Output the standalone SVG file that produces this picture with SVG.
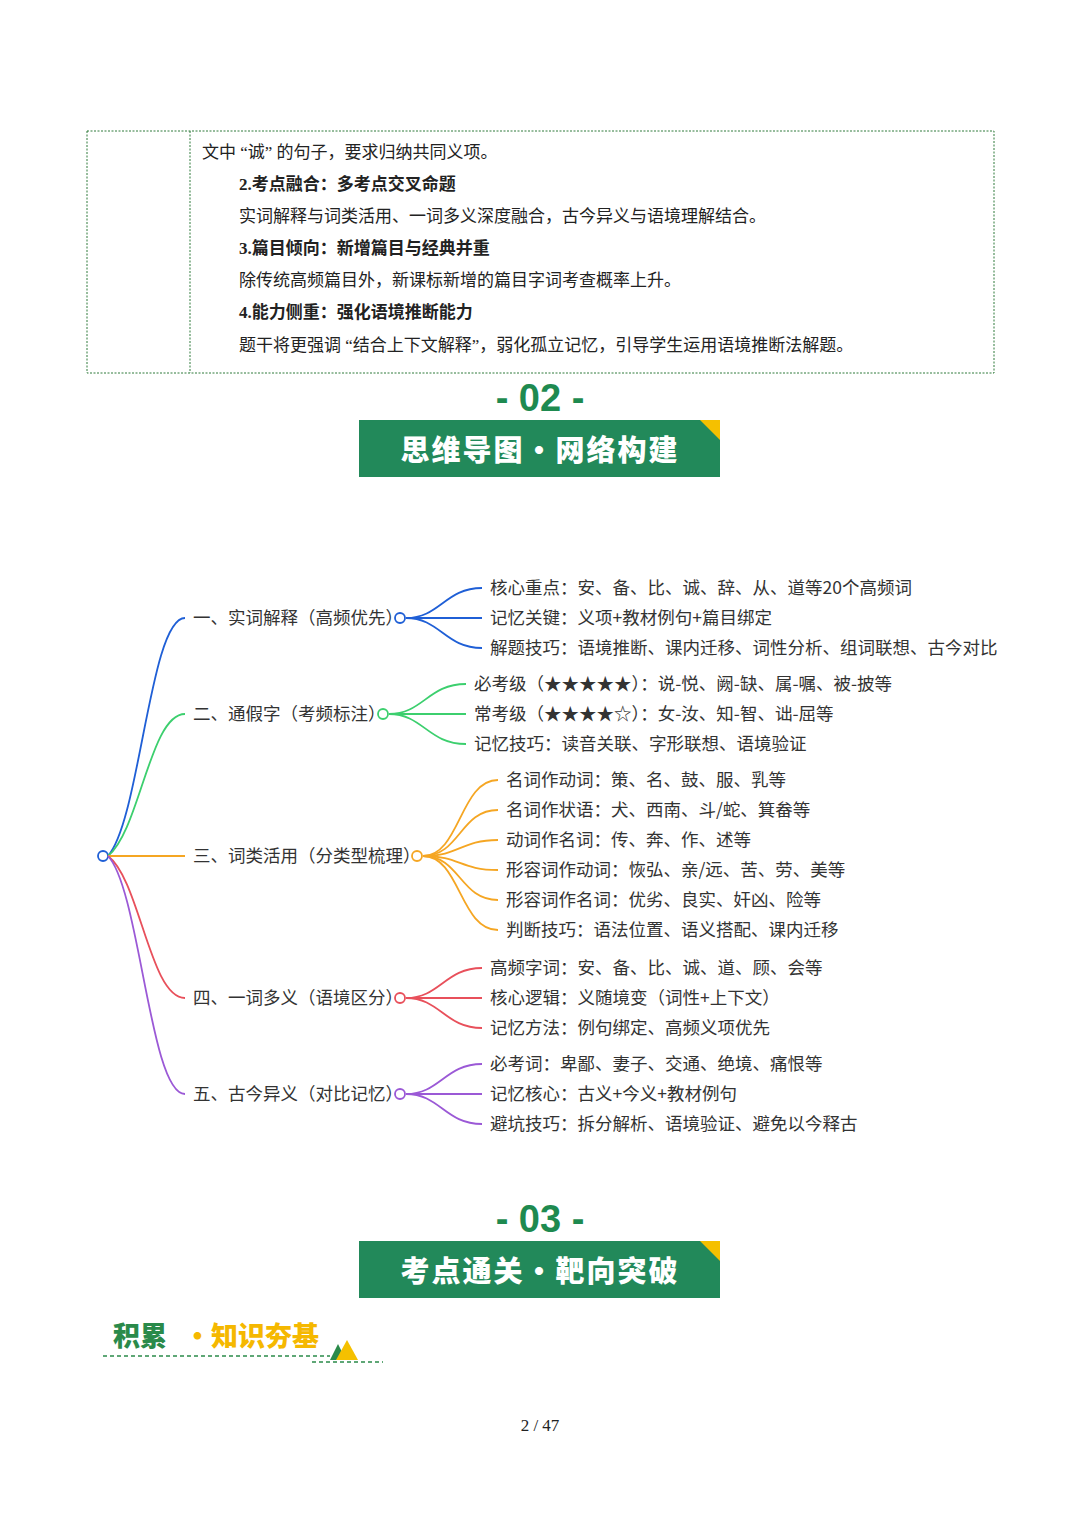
<svg xmlns="http://www.w3.org/2000/svg" width="1080" height="1528" viewBox="0 0 1080 1528">
<style>
.t{font-family:"Liberation Serif","Noto Sans CJK SC",serif;font-size:17px;fill:#222}
.b{font-weight:bold}
.m{font-family:"Noto Sans CJK SC",sans-serif;font-size:17.5px;fill:#333}
.num{font-family:"Liberation Sans","Noto Sans CJK SC",sans-serif;font-size:38px;font-weight:bold;fill:#1e8a50}
.ban{font-family:"Noto Sans CJK SC",sans-serif;font-size:29px;font-weight:900;fill:#fff;letter-spacing:2px}
.c{fill:none;stroke-width:1.8}
</style>
<rect width="1080" height="1528" fill="#fff"/>
<g id="table">
<rect x="87" y="131" width="907" height="242" fill="none" stroke="#2f7a3a" stroke-width="1" stroke-dasharray="2,1.5"/>
<line x1="190" y1="131" x2="190" y2="373" stroke="#2f7a3a" stroke-width="1" stroke-dasharray="2,1.5"/>
<text class="t" x="202" y="158">文中 “诚” 的句子，要求归纳共同义项。</text>
<text class="t b" x="239" y="190">2.考点融合：多考点交叉命题</text>
<text class="t" x="239" y="222">实词解释与词类活用、一词多义深度融合，古今异义与语境理解结合。</text>
<text class="t b" x="239" y="254">3.篇目倾向：新增篇目与经典并重</text>
<text class="t" x="239" y="286">除传统高频篇目外，新课标新增的篇目字词考查概率上升。</text>
<text class="t b" x="239" y="318">4.能力侧重：强化语境推断能力</text>
<text class="t" x="239" y="351">题干将更强调 “结合上下文解释”，弱化孤立记忆，引导学生运用语境推断法解题。</text>
</g>
<g id="header02">
<text class="num" x="540" y="411" text-anchor="middle">- 02 -</text>
<rect x="359" y="420" width="361" height="57" fill="#22895a"/>
<polygon points="700,420 720,420 720,440" fill="#f5c000"/>
<text class="ban" x="540" y="461" text-anchor="middle">思维导图・网络构建</text>
</g>
<g id="connectors">
<circle cx="103" cy="856" r="5" fill="#fff" stroke="#1f5fd6" stroke-width="1.8"/>
<path class="c" stroke="#1f5fd6" d="M108,856 C140,820 150,618 185,618"/>
<path class="c" stroke="#3ccf6e" d="M108,856 C140,830 150,714 185,714"/>
<path class="c" stroke="#f5a623" d="M108,856 L185,856"/>
<path class="c" stroke="#e8505b" d="M108,856 C140,880 150,998 185,998"/>
<path class="c" stroke="#9b59d6" d="M108,856 C140,890 150,1094 185,1094"/>
<g stroke="#1f5fd6" class="c">
<path d="M406,618 C440,618 445,588 482,588"/><path d="M406,618 L482,618"/><path d="M406,618 C440,618 445,648 482,648"/></g>
<g stroke="#3ccf6e" class="c">
<path d="M389,714 C423,714 428,684 466,684"/><path d="M389,714 L466,714"/><path d="M389,714 C423,714 428,744 466,744"/></g>
<g stroke="#f5a623" class="c">
<path d="M423,856 C460,856 460,780 498,780"/><path d="M423,856 C460,856 460,810 498,810"/><path d="M423,856 C460,856 460,840 498,840"/><path d="M423,856 C460,856 460,870 498,870"/><path d="M423,856 C460,856 460,900 498,900"/><path d="M423,856 C460,856 460,930 498,930"/></g>
<g stroke="#e8505b" class="c">
<path d="M406,998 C440,998 445,968 482,968"/><path d="M406,998 L482,998"/><path d="M406,998 C440,998 445,1028 482,1028"/></g>
<g stroke="#9b59d6" class="c">
<path d="M406,1094 C440,1094 445,1064 482,1064"/><path d="M406,1094 L482,1094"/><path d="M406,1094 C440,1094 445,1124 482,1124"/></g>
<circle cx="400" cy="618" r="5" fill="#fff" stroke="#1f5fd6" stroke-width="1.8"/>
<circle cx="383" cy="714" r="5" fill="#fff" stroke="#3ccf6e" stroke-width="1.8"/>
<circle cx="417" cy="856" r="5" fill="#fff" stroke="#f5a623" stroke-width="1.8"/>
<circle cx="400" cy="998" r="5" fill="#fff" stroke="#e8505b" stroke-width="1.8"/>
<circle cx="400" cy="1094" r="5" fill="#fff" stroke="#9b59d6" stroke-width="1.8"/>
</g>
<g id="n1"><text class="m" x="193" y="624">一、实词解释（高频优先）</text></g>
<g id="n1a"><text class="m" x="490" y="594">核心重点：安、备、比、诚、辞、从、道等20个高频词</text></g>
<g id="n1b"><text class="m" x="490" y="624">记忆关键：义项+教材例句+篇目绑定</text></g>
<g id="n1c"><text class="m" x="490" y="654">解题技巧：语境推断、课内迁移、词性分析、组词联想、古今对比</text></g>
<g id="n2"><text class="m" x="193" y="720">二、通假字（考频标注）</text></g>
<g id="n2a"><text class="m" x="474" y="690">必考级（★★★★★）：说-悦、阙-缺、属-嘱、被-披等</text></g>
<g id="n2b"><text class="m" x="474" y="720">常考级（★★★★☆）：女-汝、知-智、诎-屈等</text></g>
<g id="n2c"><text class="m" x="474" y="750">记忆技巧：读音关联、字形联想、语境验证</text></g>
<g id="n3"><text class="m" x="193" y="862">三、词类活用（分类型梳理）</text></g>
<g id="n3a"><text class="m" x="506" y="786">名词作动词：策、名、鼓、服、乳等</text></g>
<g id="n3b"><text class="m" x="506" y="816">名词作状语：犬、西南、斗/蛇、箕畚等</text></g>
<g id="n3c"><text class="m" x="506" y="846">动词作名词：传、奔、作、述等</text></g>
<g id="n3d"><text class="m" x="506" y="876">形容词作动词：恢弘、亲/远、苦、劳、美等</text></g>
<g id="n3e"><text class="m" x="506" y="906">形容词作名词：优劣、良实、奸凶、险等</text></g>
<g id="n3f"><text class="m" x="506" y="936">判断技巧：语法位置、语义搭配、课内迁移</text></g>
<g id="n4"><text class="m" x="193" y="1004">四、一词多义（语境区分）</text></g>
<g id="n4a"><text class="m" x="490" y="974">高频字词：安、备、比、诚、道、顾、会等</text></g>
<g id="n4b"><text class="m" x="490" y="1004">核心逻辑：义随境变（词性+上下文）</text></g>
<g id="n4c"><text class="m" x="490" y="1034">记忆方法：例句绑定、高频义项优先</text></g>
<g id="n5"><text class="m" x="193" y="1100">五、古今异义（对比记忆）</text></g>
<g id="n5a"><text class="m" x="490" y="1070">必考词：卑鄙、妻子、交通、绝境、痛恨等</text></g>
<g id="n5b"><text class="m" x="490" y="1100">记忆核心：古义+今义+教材例句</text></g>
<g id="n5c"><text class="m" x="490" y="1130">避坑技巧：拆分解析、语境验证、避免以今释古</text></g>
<g id="header03">
<text class="num" x="540" y="1232" text-anchor="middle">- 03 -</text>
<rect x="359" y="1241" width="361" height="57" fill="#22895a"/>
<polygon points="700,1241 720,1241 720,1261" fill="#f5c000"/>
<text class="ban" x="540" y="1282" text-anchor="middle">考点通关・靶向突破</text>
</g>
<g id="sub">
<text x="113" y="1346" font-family="Noto Sans CJK SC,sans-serif" font-size="27" font-weight="900" fill="#2a8a4a">积累</text>
<text x="184" y="1346" font-family="Noto Sans CJK SC,sans-serif" font-size="27" font-weight="900" fill="#f5b800">・知识夯基</text>
<line x1="103" y1="1356" x2="330" y2="1356" stroke="#2a8a4a" stroke-width="1.5" stroke-dasharray="4,3"/>
<line x1="312" y1="1362" x2="383" y2="1362" stroke="#2a8a4a" stroke-width="1.5" stroke-dasharray="4,3"/>
<polygon points="330,1360 338,1344 346,1360" fill="#2a8a4a"/>
<polygon points="336,1360 347,1340 358,1360" fill="#f5c000"/>
</g>
<text x="540" y="1431" text-anchor="middle" font-family="Liberation Serif,serif" font-size="17" fill="#222">2 / 47</text>
</svg>
